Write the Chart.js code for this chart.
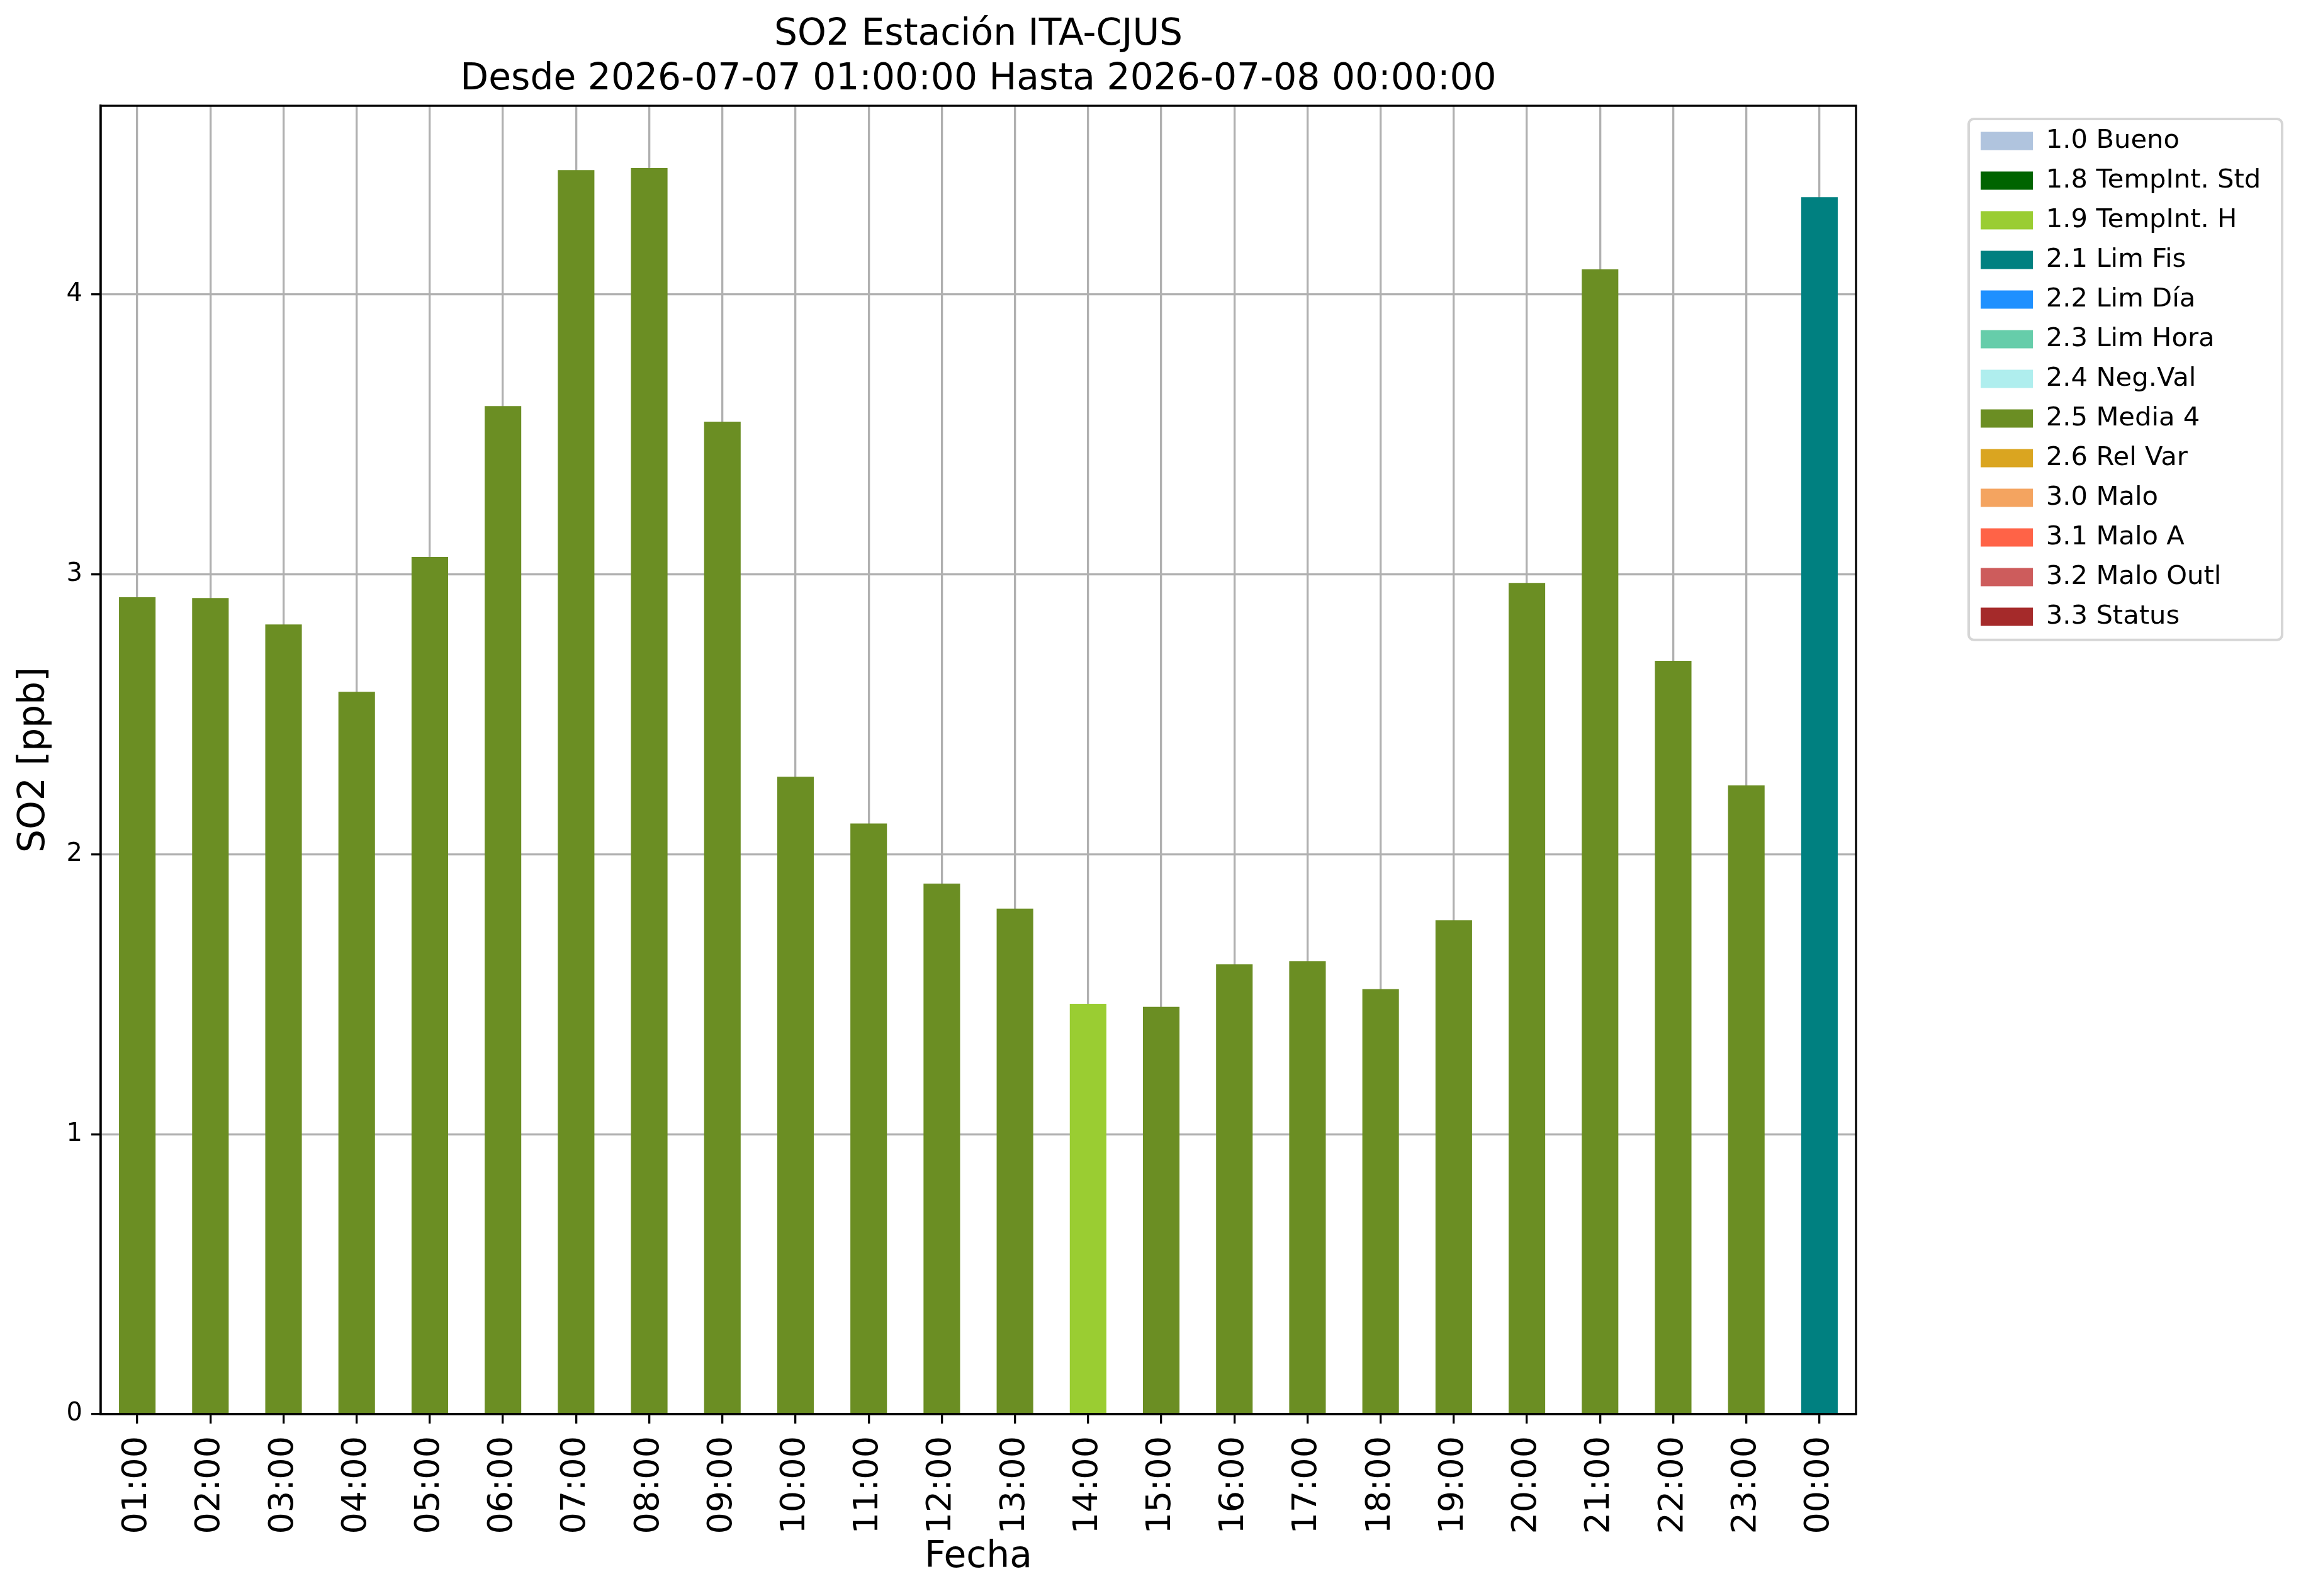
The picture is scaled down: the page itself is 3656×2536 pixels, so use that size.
<!DOCTYPE html>
<html>
<head>
<meta charset="utf-8">
<script src="https://cdn.jsdelivr.net/npm/chart.js@4.4.0/dist/chart.umd.min.js"></script>
<style>
  html, body { margin: 0; padding: 0; background: #fff; }
  #wrap { width: 3656px; height: 2536px; }
</style>
</head>
<body>
<div id="wrap"><canvas id="chart"></canvas></div>
<script>
// hours of the day shown on the x axis
const hours = ['01:00', '02:00', '03:00', '04:00', '05:00', '06:00', '07:00', '08:00',
  '09:00', '10:00', '11:00', '12:00', '13:00', '14:00', '15:00', '16:00',
  '17:00', '18:00', '19:00', '20:00', '21:00', '22:00', '23:00', '00:00'];

// SO2 values, ppb
const so2Values = [2.918, 2.915, 2.821, 2.580, 3.062, 3.601, 4.444, 4.451,
  3.545, 2.277, 2.110, 1.895, 1.806, 1.466, 1.455, 1.607,
  1.618, 1.518, 1.764, 2.969, 4.089, 2.691, 2.246, 4.347];

// validation flag of each hour
const hourFlags = ['2.5', '2.5', '2.5', '2.5', '2.5', '2.5', '2.5', '2.5',
  '2.5', '2.5', '2.5', '2.5', '2.5', '1.9', '2.5', '2.5',
  '2.5', '2.5', '2.5', '2.5', '2.5', '2.5', '2.5', '2.1'];

// legend entries
const flagCodes = ['1.0', '1.8', '1.9', '2.1', '2.2', '2.3', '2.4', '2.5', '2.6', '3.0', '3.1', '3.2', '3.3'];
const flagNames = ['1.0 Bueno', '1.8 TempInt. Std', '1.9 TempInt. H', '2.1 Lim Fis', '2.2 Lim Día',
  '2.3 Lim Hora', '2.4 Neg.Val', '2.5 Media 4', '2.6 Rel Var', '3.0 Malo', '3.1 Malo A',
  '3.2 Malo Outl', '3.3 Status'];
const flagColors = ['#b0c4de', '#006400', '#9acd32', '#008080', '#1e90ff', '#66cdaa', '#afeeee',
  '#6b8e23', '#daa520', '#f4a460', '#ff6347', '#cd5c5c', '#a52a2a'];

const yTop = Math.max(...so2Values) * 1.05;
const font = 'DejaVu Sans';

Chart.defaults.font.family = font;
Chart.defaults.color = '#000';

// axes box + legend frame
const framePlugin = {
  id: 'frame',
  afterDraw(chart) {
    const ctx = chart.ctx;
    const a = chart.chartArea;
    ctx.save();
    ctx.strokeStyle = '#000';
    ctx.lineWidth = 3.3;
    ctx.strokeRect(a.left, a.top, a.right - a.left, a.bottom - a.top);

    const boxes = chart.legend.legendHitBoxes;
    if (boxes && boxes.length) {
      const first = boxes[0];
      const last = boxes[boxes.length - 1];
      const x = first.left - 19;
      const y = first.top - 14;
      const h = last.top + last.height + 16 - y;
      ctx.strokeStyle = '#d6d6d6';
      ctx.lineWidth = 4;
      ctx.beginPath();
      ctx.roundRect(x, y, 498, h, 8);
      ctx.stroke();
    }
    ctx.restore();
  }
};

const data = {
  labels: hours,
  datasets: [{
    label: 'SO2',
    data: so2Values,
    backgroundColor: hourFlags.map(f => flagColors[flagCodes.indexOf(f)]),
    borderWidth: 0,
    barPercentage: 0.5,
    categoryPercentage: 1.0
  }]
};

const config = {
  type: 'bar',
  data: data,
  plugins: [framePlugin],
  options: {
    responsive: true,
    maintainAspectRatio: false,
    devicePixelRatio: 1,
    animation: false,
    layout: { padding: { left: 0, right: 60.3, top: 0, bottom: 0 } },
    plugins: {
      tooltip: { enabled: false },
      title: {
        display: true,
        fullSize: false,
        text: ['SO2 Estación ITA-CJUS', 'Desde 2026-07-07 01:00:00 Hasta 2026-07-08 00:00:00'],
        color: '#000',
        font: { family: font, size: 58.3, weight: 'normal', lineHeight: 1.21 },
        padding: { top: 21, bottom: 6 }
      },
      legend: {
        position: 'right',
        align: 'start',
        fullSize: false,
        maxWidth: 470,
        title: { display: true, text: ' ', font: { size: 1 }, padding: { top: 12.5, bottom: 0 } },
        labels: {
          boxWidth: 83,
          boxHeight: 29,
          padding: 21.3,
          color: '#000',
          font: { family: font, size: 41.7 },
          generateLabels: () => flagNames.map((name, i) => ({
            text: name,
            fillStyle: flagColors[i],
            strokeStyle: flagColors[i],
            lineWidth: 0,
            hidden: false,
            datasetIndex: 0
          }))
        },
        onClick: () => {}
      }
    },
    scales: {
      x: {
        type: 'category',
        offset: true,
        z: 1,
        grid: {
          offset: false, color: '#b0b0b0', lineWidth: 3.3,
          drawTicks: true, tickLength: 15, tickColor: '#000', tickWidth: 3.3
        },
        border: { display: true, color: '#000', width: 3.3 },
        ticks: {
          color: '#000', font: { family: font, size: 54 },
          minRotation: 90, maxRotation: 90, padding: 20, autoSkip: false
        },
        title: {
          display: true, text: 'Fecha', color: '#000',
          font: { family: font, size: 58.3 }, padding: { top: 0, bottom: 26 }
        },
        afterFit(s) { s.height = 289; }
      },
      y: {
        min: 0,
        max: yTop,
        z: 1,
        grid: {
          color: '#b0b0b0', lineWidth: 3.3,
          drawTicks: true, tickLength: 15, tickColor: '#000', tickWidth: 3.3
        },
        border: { display: true, color: '#000', width: 3.3 },
        ticks: {
          stepSize: 1, includeBounds: false, color: '#000',
          font: { family: font, size: 40 }, padding: 14
        },
        title: {
          display: true, text: 'SO2 [ppb]', color: '#000',
          font: { family: font, size: 58.3 }, padding: { top: 20, bottom: 0 }
        },
        afterFit(s) { s.width = 160; }
      },
      // empty space between the plot and the legend
      gap: {
        type: 'linear',
        position: 'right',
        display: true,
        grid: { display: false, drawTicks: false },
        border: { display: false },
        ticks: { display: false },
        afterFit(s) { s.width = 176.7; }
      }
    }
  }
};

const chartInit = new Chart(document.getElementById('chart'), config);
</script>
</body>
</html>
